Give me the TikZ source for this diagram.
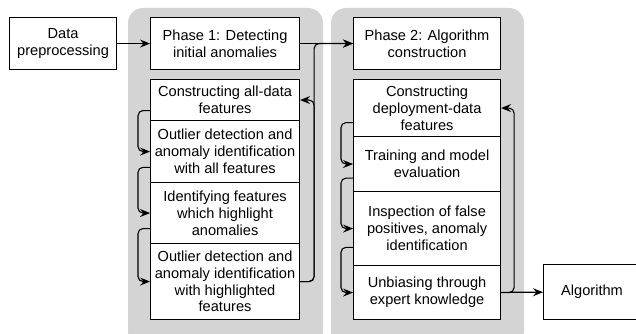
\documentclass[tikz,border=0pt]{standalone}
\usepackage{fontspec}
\setmainfont{Liberation Sans}
\usetikzlibrary{arrows.meta,calc}
\definecolor{panelgray}{RGB}{212,212,212}
\begin{document}
\begin{tikzpicture}[x=1pt,y=-1pt,
 box/.style={draw=black, line width=1.1pt, fill=white, anchor=north west, align=center, inner sep=0pt, font=\fontsize{14.6}{16.8}\selectfont},
 arr/.style={-{Stealth[length=10pt,width=8pt,inset=3.5pt]}, line width=1.1pt, rounded corners=5pt},
 panel/.style={fill=panelgray, rounded corners=15pt}]
\useasboundingbox (0,0) rectangle (636,334);
\fill[white] (0,0) rectangle (636,334);
\fill[panel] (128,8) rectangle (323,346);
\fill[panel] (331,8) rectangle (524,346);

\node[box, minimum width=107, minimum height=52] (dp) at (9,17) {Data\\preprocessing};
\node[box, minimum width=149, minimum height=52] (p1) at (150,17) {Phase 1: Detecting\\initial anomalies};
\node[box, minimum width=149, minimum height=41] (c1) at (150,79) {Constructing all-data\\features};
\node[box, minimum width=149, minimum height=62] (o1) at (150,120) {Outlier detection and\\anomaly identification\\with all features};
\node[box, minimum width=149, minimum height=61] (i1) at (150,182) {Identifying features\\which highlight\\anomalies};
\node[box, minimum width=149, minimum height=76] (o2) at (150,243) {Outlier detection and\\anomaly identification\\with highlighted\\features};

\node[box, minimum width=147, minimum height=52] (p2) at (353,17) {Phase 2: Algorithm\\construction};
\node[box, minimum width=147, minimum height=57] (c2) at (353,79) {Constructing\\deployment-data\\features};
\node[box, minimum width=147, minimum height=55] (t2) at (353,136) {Training and model\\evaluation};
\node[box, minimum width=147, minimum height=74] (n2) at (353,191) {Inspection of false\\positives, anomaly\\identification};
\node[box, minimum width=147, minimum height=54] (u2) at (353,265) {Unbiasing through\\expert knowledge};
\node[box, minimum width=97, minimum height=55] (alg) at (543,264) {Algorithm};

\draw[arr] (dp) -- (p1);
\draw[arr] (p1) -- (p2);
\draw[arr] (o2.east) -- ++(14,0) |- (p2.west);
\draw[arr] (o2.east) -- ++(14,0) |- (c1.east);

\draw[arr] ($(c1.north west)!0.75!(c1.south west)$) -- ++(-12,0) |- (o1.west);
\draw[arr] ($(o1.north west)!0.75!(o1.south west)$) -- ++(-12,0) |- (i1.west);
\draw[arr] ($(i1.north west)!0.75!(i1.south west)$) -- ++(-12,0) |- (o2.west);

\draw[arr] ($(c2.north west)!0.75!(c2.south west)$) -- ++(-12,0) |- (t2.west);
\draw[arr] ($(t2.north west)!0.75!(t2.south west)$) -- ++(-12,0) |- (n2.west);
\draw[arr] ($(n2.north west)!0.75!(n2.south west)$) -- ++(-12,0) |- (u2.west);

\draw[arr] (u2.east) -- ++(13,0) |- (c2.east);
\draw[arr] (u2) -- (alg);
\end{tikzpicture}
\end{document}
